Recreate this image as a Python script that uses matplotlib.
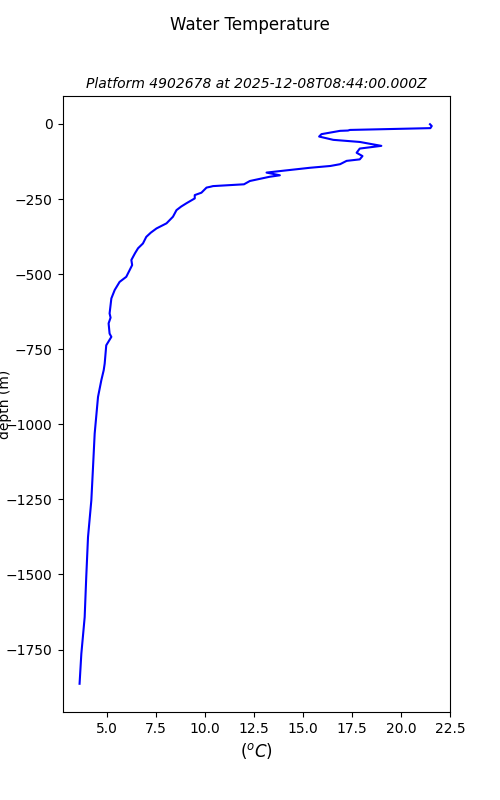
import matplotlib
matplotlib.use("Agg")
import matplotlib.pyplot as plt

# Argo profile
temperature = [21.48, 21.57, 21.5, 17.4, 17.3, 16.9, 15.95, 15.83, 16.55, 17.9, 19.0,
               17.9, 17.74, 18.04, 17.9, 17.23, 16.9, 16.4, 15.36, 13.83, 13.15,
               13.83, 13.3, 12.3, 12.0, 10.42, 10.3, 10.09, 9.83, 9.7, 9.49, 9.49, 9.07,
               8.8, 8.56, 8.38, 8.05, 7.54, 7.25, 7.02, 6.85, 6.6, 6.45, 6.26, 6.3, 6.17, 6.0,
               5.66, 5.41, 5.24, 5.15, 5.2, 5.1, 5.15, 5.24, 4.98, 4.9, 4.85, 4.73,
               4.56, 4.39, 4.3, 4.22, 4.05, 3.96, 3.88, 3.8, 3.71, 3.62]
depth = [-1, -7, -14, -20, -22, -23, -34, -42, -53, -60, -73,
         -82, -96, -107, -118, -123, -134, -140, -146, -157, -162,
         -171, -176, -190, -201, -207, -209, -212, -229, -232, -237, -248, -264,
         -275, -287, -309, -331, -348, -362, -376, -398, -414, -430, -453, -470, -487, -509,
         -526, -553, -581, -631, -645, -664, -698, -709, -737, -798, -820, -853,
         -909, -1031, -1150, -1253, -1376, -1509, -1642, -1700, -1764, -1864]

fig, ax = plt.subplots(figsize=(5, 8), dpi=100)
ax.plot(temperature, depth, color='blue', linewidth=1.5)
ax.set_xlim(2.75, 22.5)
ax.set_ylim(-1958, 93)

fig.suptitle('Water Temperature')
ax.set_title('Platform 4902678 at 2025-12-08T08:44:00.000Z', fontsize=10, style='italic')
ax.set_xlabel('($^oC$)', fontsize=12)
ax.set_ylabel('depth (m)')
ax.yaxis.set_label_coords(-0.13, 0.5)

plt.savefig('out.png')
plt.close(fig)
